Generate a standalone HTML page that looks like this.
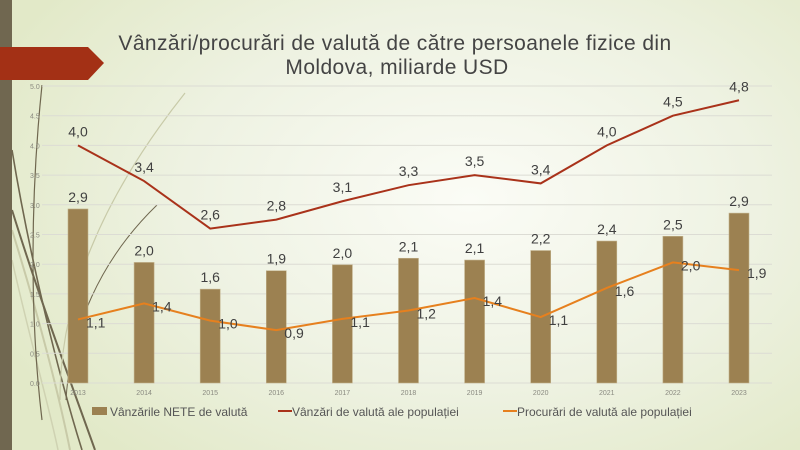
<!DOCTYPE html>
<html><head><meta charset="utf-8"><style>
html,body{margin:0;padding:0}
body{width:800px;height:450px;overflow:hidden;position:relative;font-family:"Liberation Sans",sans-serif;
background:radial-gradient(ellipse 520px 340px at 470px 200px,#fbfcf6 0%,#eef2e2 55%,#e2e9c8 100%);}
</style></head><body>
<svg width="800" height="450" style="position:absolute;left:0;top:0" id="s">
<g fill="none">
<path d="M12 210 C40 300,70 380,95 450" stroke="#6f674f" stroke-width="2"/>
<path d="M12 150 C30 260,60 380,82 450" stroke="#6f674f" stroke-width="1.6"/>
<path d="M12 230 C40 320,60 400,70 450" stroke="#c8caa8" stroke-width="2"/>
<path d="M12 260 C30 340,50 410,58 450" stroke="#cfd2b2" stroke-width="1.5"/>
<path d="M42 85 C30 200,30 320,42 420" stroke="#6f674f" stroke-width="1.2"/>
<path d="M60 400 C60 300,100 200,185 93" stroke="#c8caa8" stroke-width="1.2"/>
<path d="M66 400 C70 330,100 260,157 205" stroke="#6f674f" stroke-width="1"/>
</g>
<rect x="0" y="0" width="12" height="450" fill="#706750"/>
<polygon points="0,47 88,47 104,63 88,80 0,80" fill="#a33015"/>
<text x="395" y="50" text-anchor="middle" font-size="21" letter-spacing="0.4" fill="#444">Vânzări/procurări de valută de către persoanele fizice din</text>
<text x="397" y="74" text-anchor="middle" font-size="21" letter-spacing="0.4" fill="#444">Moldova, miliarde USD</text>
<g id="g"></g>
</svg>
<script>
var g=document.getElementById('g'),h='';
function Y(v){return 383-59.4*v}
for(var i=0;i<=10;i++){var v=i*0.5,y=Y(v);h+='<line x1="42" x2="772" y1="'+y+'" y2="'+y+'" stroke="#dcdcd4" stroke-width="1"/>';
h+='<text x="30" y="'+(y+3)+'" font-size="7" fill="#8a8a80">'+v.toFixed(1)+'</text>';}
var yrs=[2013,2014,2015,2016,2017,2018,2019,2020,2021,2022,2023];
var b=[2.93,2.03,1.58,1.89,1.99,2.1,2.07,2.23,2.39,2.47,2.86],bl=['2,9','2,0','1,6','1,9','2,0','2,1','2,1','2,2','2,4','2,5','2,9'];
var r=[4.0,3.4,2.6,2.75,3.06,3.33,3.5,3.36,4.0,4.5,4.76],rl=['4,0','3,4','2,6','2,8','3,1','3,3','3,5','3,4','4,0','4,5','4,8'];
var o=[1.07,1.34,1.05,0.89,1.08,1.22,1.43,1.11,1.6,2.03,1.9],ol=['1,1','1,4','1,0','0,9','1,1','1,2','1,4','1,1','1,6','2,0','1,9'];
function X(i){return 78+66.1*i}
for(i=0;i<11;i++){var x=X(i);h+='<rect x="'+(x-10)+'" y="'+Y(b[i])+'" width="20" height="'+(383-Y(b[i]))+'" fill="#9c8151" stroke="#c2b28c" stroke-width="0.6"/>';
h+='<text x="'+x+'" y="'+(Y(b[i])-7)+'" text-anchor="middle" font-size="14" fill="#404040">'+bl[i]+'</text>';
h+='<text x="'+x+'" y="395" text-anchor="middle" font-size="7" fill="#8a8a80">'+yrs[i]+'</text>';}
var pr='',po='';for(i=0;i<11;i++){pr+=X(i)+','+Y(r[i])+' ';po+=X(i)+','+Y(o[i])+' ';}
h+='<polyline points="'+pr+'" fill="none" stroke="#a9321a" stroke-width="2"/>';
h+='<polyline points="'+po+'" fill="none" stroke="#e6801e" stroke-width="2"/>';
for(i=0;i<11;i++){h+='<text x="'+X(i)+'" y="'+(Y(r[i])-9)+'" text-anchor="middle" font-size="14" fill="#404040">'+rl[i]+'</text>';
h+='<text x="'+(X(i)+8)+'" y="'+(Y(o[i])+8)+'" font-size="14" fill="#404040">'+ol[i]+'</text>';}
h+='<rect x="92" y="407" width="15" height="8" fill="#9c8151"/><text x="110" y="416" font-size="12" fill="#555">Vânzările NETE de valută</text>';
h+='<line x1="278" x2="292" y1="411" y2="411" stroke="#a9321a" stroke-width="2"/><text x="292" y="416" font-size="12" fill="#555">Vânzări de valută ale populației</text>';
h+='<line x1="503" x2="517" y1="411" y2="411" stroke="#e6801e" stroke-width="2"/><text x="517" y="416" font-size="12" fill="#555">Procurări de valută ale populației</text>';
g.innerHTML=h;
</script>
</body></html>
